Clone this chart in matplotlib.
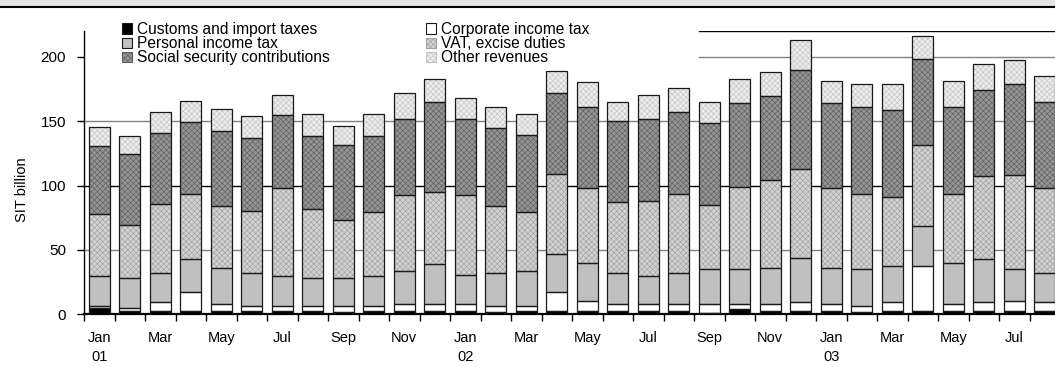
import numpy as np
import matplotlib
matplotlib.use('Agg')
import matplotlib.pyplot as plt
from matplotlib.patches import Patch, Rectangle
from matplotlib.lines import Line2D

plt.rcParams['font.family'] = ['Liberation Sans', 'DejaVu Sans']
plt.rcParams['hatch.linewidth'] = 0.45

months = ['Jan', 'Feb', 'Mar', 'Apr', 'May', 'Jun', 'Jul', 'Aug', 'Sep', 'Oct', 'Nov', 'Dec'] * 2 + \
         ['Jan', 'Feb', 'Mar', 'Apr', 'May', 'Jun', 'Jul', 'Aug']
years = {0: '01', 12: '02', 24: '03'}

# SIT billion, monthly
customs = [4.4, 2.6, 2.6, 2.6, 2.6, 2.6, 2.6, 2.6, 1.8, 2.6, 2.6, 2.6,
           2.6, 1.8, 2.6, 2.6, 2.6, 2.6, 2.6, 2.6, 1.0, 3.7, 2.6, 2.6,
           2.6, 1.3, 2.6, 2.6, 2.6, 2.6, 2.6, 2.6]
corporate = [2.1, 2.4, 6.5, 14.4, 5.0, 3.7, 3.7, 3.9, 4.5, 3.7, 5.0, 5.0,
             5.0, 4.5, 3.7, 14.4, 7.6, 5.0, 5.0, 5.0, 6.6, 3.9, 5.0, 6.5,
             5.0, 5.0, 6.5, 34.7, 5.0, 6.5, 7.8, 6.5]
personal = [22.7, 22.9, 22.7, 25.8, 28.4, 25.5, 22.9, 21.4, 21.6, 22.9, 25.8, 31.0,
            22.9, 25.5, 27.1, 29.7, 29.7, 24.2, 21.6, 24.2, 27.1, 27.1, 28.4, 34.7,
            28.4, 28.4, 28.2, 31.0, 32.3, 33.7, 24.3, 22.7]
vat = [48.8, 41.7, 54.0, 50.8, 48.2, 48.5, 68.6, 54.0, 45.4, 49.8, 59.4, 56.6,
       62.3, 52.4, 45.6, 62.0, 57.9, 55.0, 58.9, 61.8, 49.8, 64.4, 68.6, 68.8,
       61.8, 58.9, 53.7, 62.9, 53.7, 64.4, 73.8, 66.0]
social = [52.4, 55.3, 55.3, 55.6, 58.4, 56.9, 56.8, 56.3, 58.4, 59.2, 59.0, 70.1,
          59.0, 60.8, 60.5, 63.4, 63.3, 63.7, 63.7, 63.4, 64.4, 64.9, 64.9, 77.0,
          66.2, 67.5, 67.5, 67.4, 67.5, 67.5, 70.1, 67.5]
other = [14.8, 13.3, 16.1, 16.4, 17.2, 17.2, 15.9, 17.5, 14.8, 17.5, 20.3, 17.2,
         16.1, 16.1, 16.2, 17.2, 19.1, 14.8, 18.7, 18.7, 16.4, 18.5, 18.8, 23.4,
         17.2, 17.5, 20.1, 17.9, 20.1, 20.1, 18.8, 20.1]

series = [
    ('Customs and import taxes', customs, '#000000', None, None),
    ('Corporate income tax', corporate, '#ffffff', None, None),
    ('Personal income tax', personal, '#c0c0c0', None, None),
    ('VAT, excise duties', vat, '#d2d2d2', '#a0a0a0', 'xxxxxx'),
    ('Social security contributions', social, '#959595', '#5e5e5e', 'xxxxxx'),
    ('Other revenues', other, '#ececec', '#c4c4c4', 'xxxxxx'),
]

fig = plt.figure(figsize=(10.55, 3.67), dpi=100)
ax = fig.add_axes([84 / 1055, 53 / 367, 976 / 1055, 282.7 / 367])

x = np.arange(len(months))
width = 0.7
bottom = np.zeros(len(months))
handles = {}
for name, vals, face, dots, hatch in series:
    vals = np.array(vals)
    if hatch:
        ax.bar(x, vals, width, bottom=bottom, color=face, edgecolor=dots,
               hatch=hatch, linewidth=0, zorder=2)
    else:
        ax.bar(x, vals, width, bottom=bottom, color=face, linewidth=0, zorder=2)
    ax.bar(x, vals, width, bottom=bottom, fill=False, edgecolor='#1a1a1a',
           linewidth=0.9, zorder=3)
    bottom += vals
    handles[name] = Patch(facecolor=face, edgecolor='#1a1a1a' if not dots else dots,
                          hatch=hatch, linewidth=0.8)

# grid lines; the legend box hides the left part of the upper ones
for y, c in [(50, '#808080'), (100, '#000000'), (150, '#808080')]:
    ax.axhline(y, color=c, linewidth=1.0, zorder=1)
ax.axhline(200, xmin=0.63, color='#808080', linewidth=1.0, zorder=1)
ax.axhline(220, xmin=0.63, color='#000000', linewidth=1.0, zorder=1)

ax.set_xlim(-0.5, len(months) - 0.5)
ax.set_ylim(0, 220)
ax.set_yticks([0, 50, 100, 150, 200])
ax.tick_params(axis='y', direction='out', length=5, pad=8, labelsize=11, width=1)

labels = []
pos = []
for i, m in enumerate(months):
    if i % 2 == 0:
        pos.append(i)
        labels.append(m + ('\n' + years[i] if i in years else ''))
ax.set_xticks(pos)
ax.set_xticklabels(labels, fontsize=10.5, linespacing=1.5)
ax.set_xticks(np.arange(len(months)) - 0.5, minor=True)
ax.tick_params(axis='x', which='major', length=0, pad=12)
ax.tick_params(axis='x', which='minor', direction='out', length=5, width=1)

for s in ['top', 'right']:
    ax.spines[s].set_visible(False)
ax.spines['left'].set_linewidth(1.0)
ax.spines['bottom'].set_linewidth(1.6)

ax.set_ylabel('SIT billion', fontsize=10.5)
ax.yaxis.set_label_coords(-0.056, 0.44)

order = ['Customs and import taxes', 'Personal income tax', 'Social security contributions',
         'Corporate income tax', 'VAT, excise duties', 'Other revenues']
ax.legend([handles[n] for n in order], order, ncol=2, frameon=False,
          fontsize=11.2, loc='upper left', bbox_to_anchor=(122 / 1055, 1 - 22 / 367),
          bbox_transform=fig.transFigure, borderpad=0, borderaxespad=0,
          handlelength=0.65, handleheight=0.65, handletextpad=0.3,
          labelspacing=-0.05, columnspacing=6.2)

# header band at the top of the page
fig.patches.append(Rectangle((0, 1 - 7 / 367), 1, 7 / 367, transform=fig.transFigure,
                             facecolor='#e4e4e4', edgecolor='none'))
fig.lines.append(Line2D([0, 1], [1 - 7 / 367, 1 - 7 / 367], transform=fig.transFigure,
                        color='#000000', linewidth=1.5))

fig.savefig('out.png', dpi=100)
